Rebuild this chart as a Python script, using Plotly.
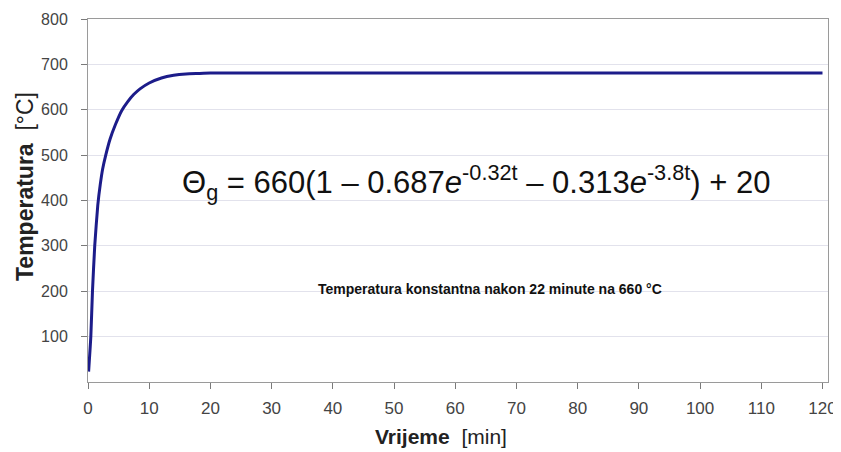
import plotly.graph_objects as go

# Data
time_min = [0.1, 0.46, 0.73, 1.1, 1.6, 2.0, 2.4, 2.9, 3.6, 4.5, 5.5, 6.5, 7.5, 8.5,
            10.0, 12.0, 14.0, 16.0, 18.0, 20.0, 25.0, 30.0, 40.0, 50.0, 60.0,
            70.0, 80.0, 90.0, 100.0, 110.0, 120.0]
temp_c = [23, 100, 200, 300, 390, 435, 470, 500, 535, 568, 598, 618, 634, 646,
          659, 670, 676, 679, 680, 681, 681, 681, 681, 681, 681,
          681, 681, 681, 681, 681, 681]
x_ticks = list(range(0, 121, 10))
y_ticks = list(range(100, 801, 100))

formula_text = ("Θ<sub>g</sub> = 660(1 – 0.687<i>e</i><sup>-0.32t</sup> – "
                "0.313<i>e</i><sup>-3.8t</sup>) + 20")
note_text = "<b>Temperatura konstantna nakon 22 minute na 660 °C</b>"
x_title = "<b>Vrijeme</b>  [min]"
y_title = "<b>Temperatura</b>  [°C]"

FONT = "Liberation Sans, Arial, sans-serif"

fig = go.Figure()
fig.add_trace(go.Scatter(x=time_min, y=temp_c, mode="lines",
                         line=dict(color="#1c1c8a", width=3, shape="spline", smoothing=0.5),
                         hoverinfo="skip", showlegend=False))

axis_common = dict(showline=True, linecolor="#9a9a9a", linewidth=1, mirror=True,
                   ticks="outside", tickcolor="#7a7a7a", ticklen=6,
                   zeroline=False, automargin=False)

fig.update_xaxes(range=[0, 120.9], tickvals=x_ticks, showgrid=False, ticklabelstandoff=5,
                 tickfont=dict(family=FONT, size=17, color="#444444"), **axis_common)
fig.update_yaxes(range=[0, 800], tickvals=y_ticks, showgrid=True, gridcolor="#e2e2ec",
                 gridwidth=1, ticklabelstandoff=10,
                 tickfont=dict(family=FONT, size=16, color="#444444"), **axis_common)

fig.add_annotation(x=15.0, y=440, xref="x", yref="y", text=formula_text, showarrow=False,
                   xanchor="left", yanchor="middle",
                   font=dict(family=FONT, size=31, color="#111111"))
fig.add_annotation(x=65.6, y=205, xref="x", yref="y", text=note_text, showarrow=False,
                   xanchor="center", yanchor="middle",
                   font=dict(family=FONT, size=14, color="#111111"))
fig.add_annotation(x=441, y=436, xref="paper", yref="paper", text=x_title, showarrow=False,
                   xanchor="center", yanchor="middle",
                   font=dict(family=FONT, size=21, color="#222222"))
fig.add_annotation(x=25, y=187, xref="paper", yref="paper", text=y_title, showarrow=False,
                   textangle=-90, xanchor="center", yanchor="middle",
                   font=dict(family=FONT, size=23, color="#222222"))

# The page places the figure 8 px from the window's top-left corner,
# so the figure is sized to fill the rest of the 841x452 window.
W, H = 833, 444
ML, MR, MT, MB = 80, 13, 11, 70
fig.update_layout(width=W, height=H, margin=dict(l=ML, r=MR, t=MT, b=MB),
                  paper_bgcolor="white", plot_bgcolor="white")

# convert window-pixel-positioned title annotations to paper coordinates
pw = W - ML - MR
ph = H - MT - MB
for ann in fig.layout.annotations:
    if ann.xref == "paper":
        ann.x = (ann.x - 8 - ML) / pw
        ann.y = (H - MB - (ann.y - 8)) / ph

fig.write_html("out.html")
